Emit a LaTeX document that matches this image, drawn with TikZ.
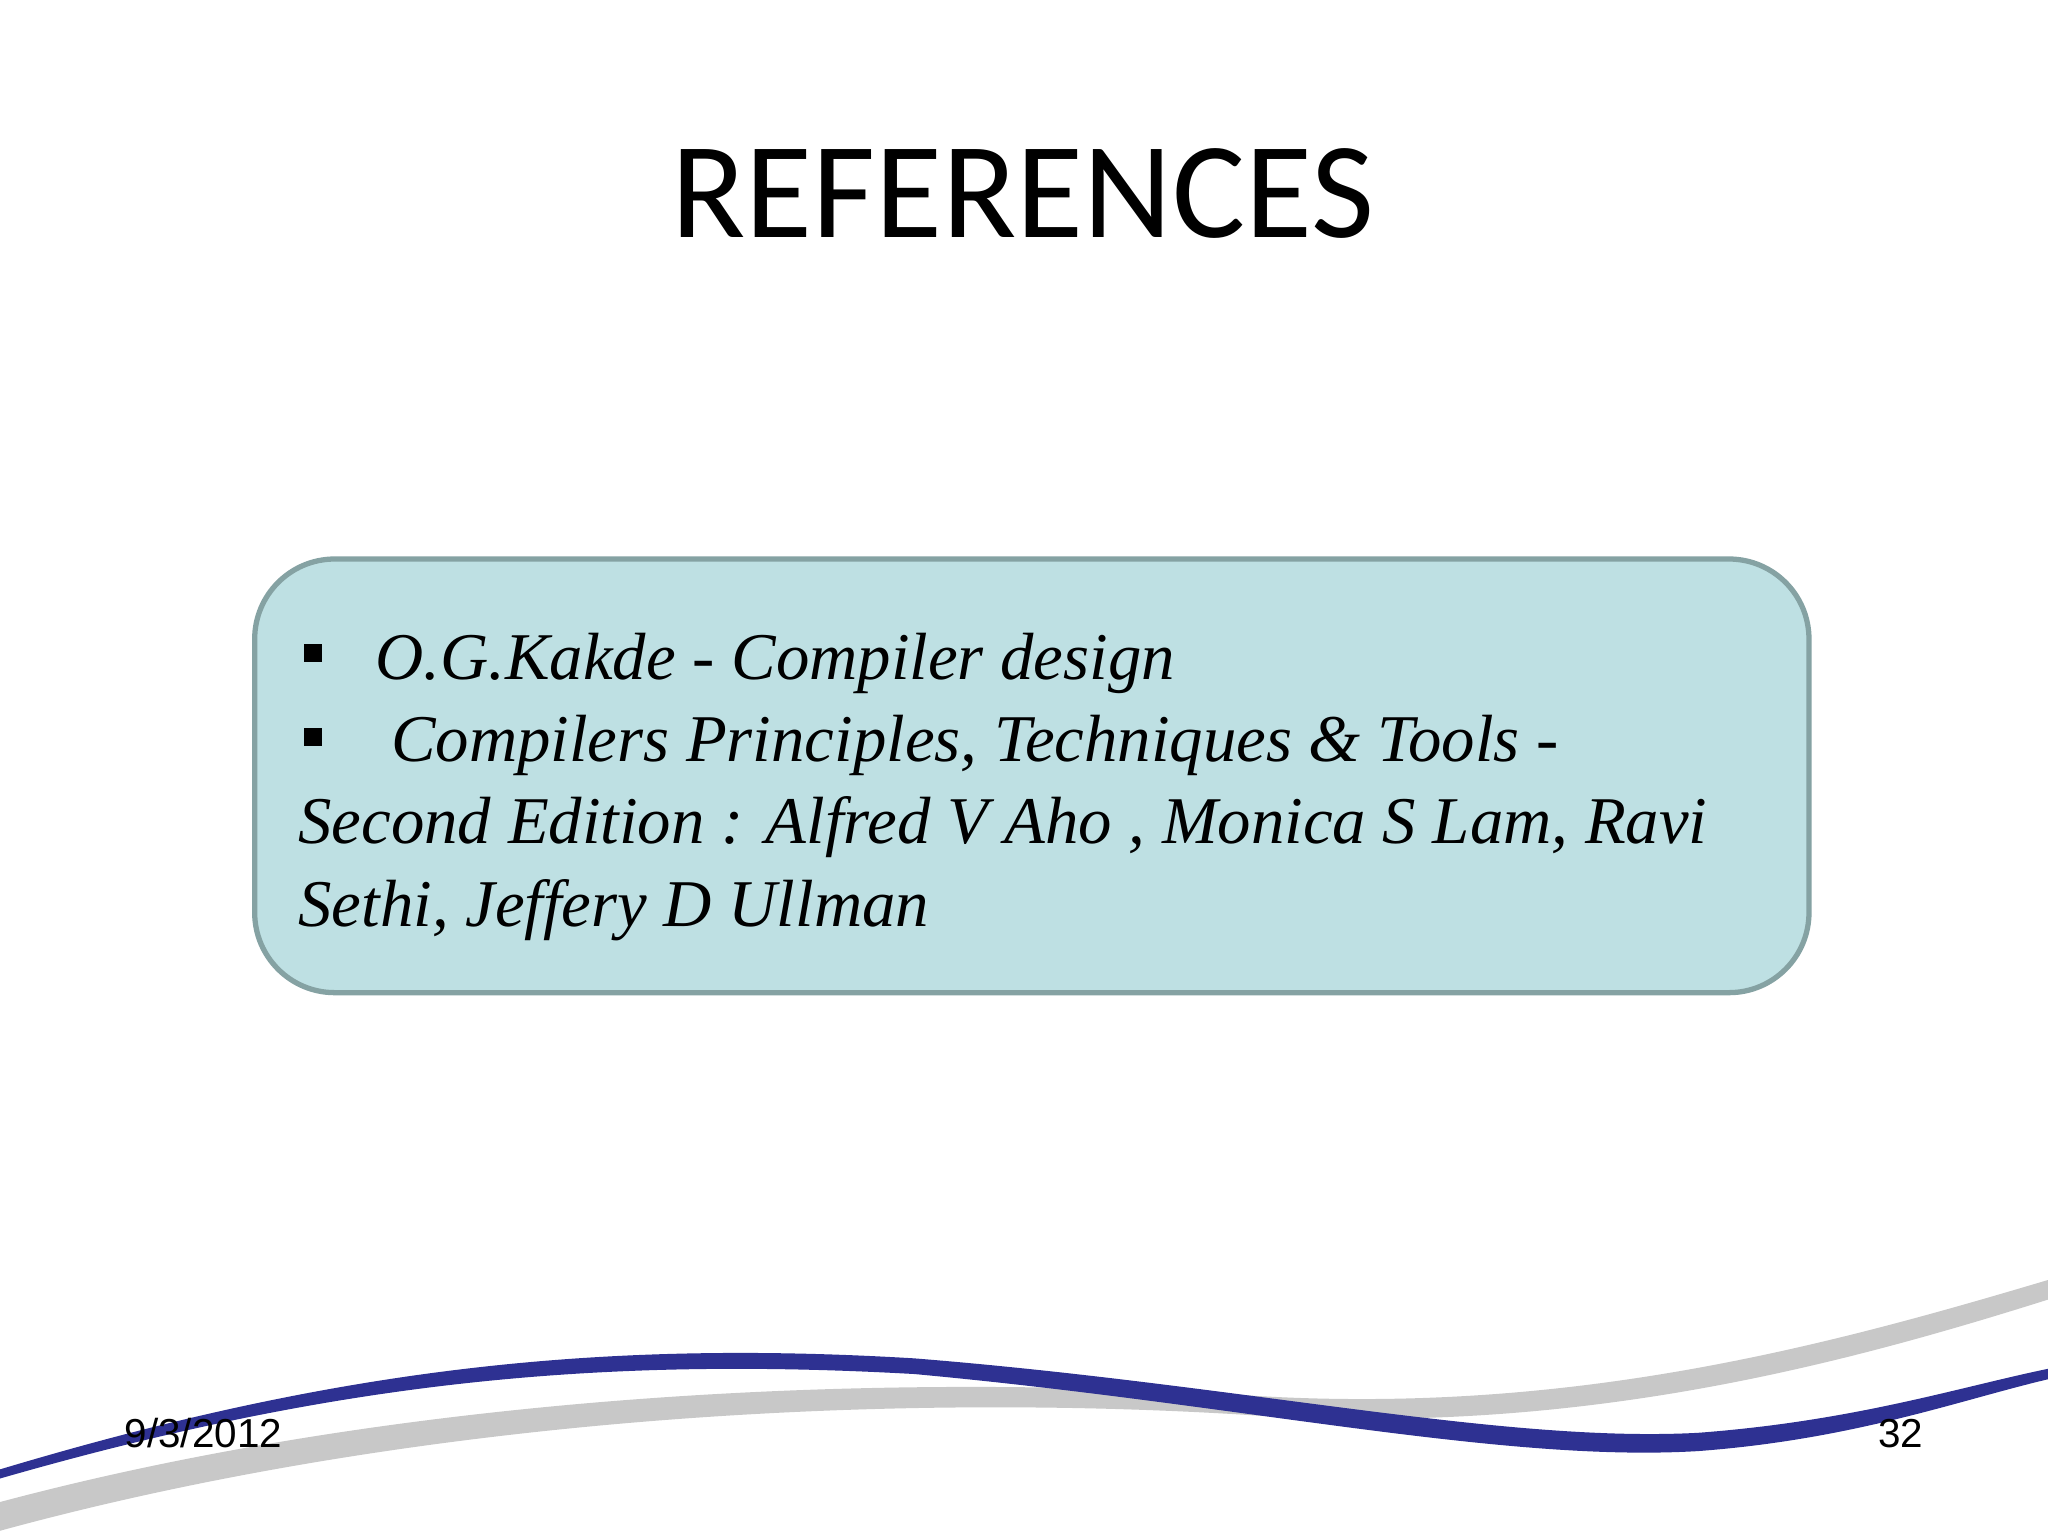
\documentclass[tikz,border=0pt]{standalone}
\usepackage{fontspec}
\setmainfont{Liberation Serif}
\newfontfamily\titlefont{Carlito}
\newfontfamily\arialfont{Liberation Sans}
\definecolor{boxfill}{HTML}{BEE0E3}
\definecolor{boxline}{HTML}{85A2A3}
\definecolor{swblue}{HTML}{2E3192}
\definecolor{swgray}{HTML}{C8C8C8}
\begin{document}
\begin{tikzpicture}[x=0.01306cm,y=-0.01306cm,
  reftext/.style={anchor=base west,inner sep=0pt,font=\fontsize{19}{23}\selectfont\itshape},
  bul/.style={fill=black,minimum size=0.18cm,inner sep=0pt}]
\useasboundingbox (0,0) rectangle (1568,1176);
\fill[white] (0,0) rectangle (1568,1176);
% swooshes
\fill[swgray] (0,1150) .. controls (300,1070) and (650,1050) .. (950,1068) .. controls (1200,1085) and (1400,1030) .. (1568,980)
  -- (1568,995) .. controls (1400,1048) and (1200,1100) .. (950,1083) .. controls (650,1065) and (300,1090) .. (0,1172) -- cycle;
\fill[swblue] (0,1125) .. controls (250,1050) and (450,1025) .. (700,1040) .. controls (950,1060) and (1150,1105) .. (1300,1097) .. controls (1420,1088) and (1500,1062) .. (1568,1048)
  -- (1568,1056) .. controls (1500,1072) and (1420,1102) .. (1300,1111) .. controls (1150,1120) and (950,1075) .. (700,1052) .. controls (450,1038) and (250,1060) .. (0,1132) -- cycle;
\node[font=\titlefont\fontsize{39}{46}\selectfont] (title) at (783,148) {REFERENCES};
\draw[boxline,fill=boxfill,line width=1.5pt,rounded corners=0.8cm] (195,428) rectangle (1385,760);
\node[bul] (b1) at (240,500) {};
\node[bul] (b2) at (240,564) {};
\node[reftext] (l1) at (287,520) {O.G.Kakde - Compiler design};
\node[reftext] (l2) at (299,583) {Compilers Principles, Techniques \& Tools -};
\node[reftext] (l3) at (228,646) {Second Edition : Alfred V Aho , Monica S Lam, Ravi};
\node[reftext] (l4) at (228,709) {Sethi, Jeffery D Ullman};
\node[font=\arialfont\fontsize{11.5}{14}\selectfont,anchor=base west,inner sep=0pt] (date) at (95,1108) {9/3/2012};
\node[font=\arialfont\fontsize{11.5}{14}\selectfont,anchor=base east,inner sep=0pt] (num) at (1473,1108) {32};
\end{tikzpicture}
\end{document}
